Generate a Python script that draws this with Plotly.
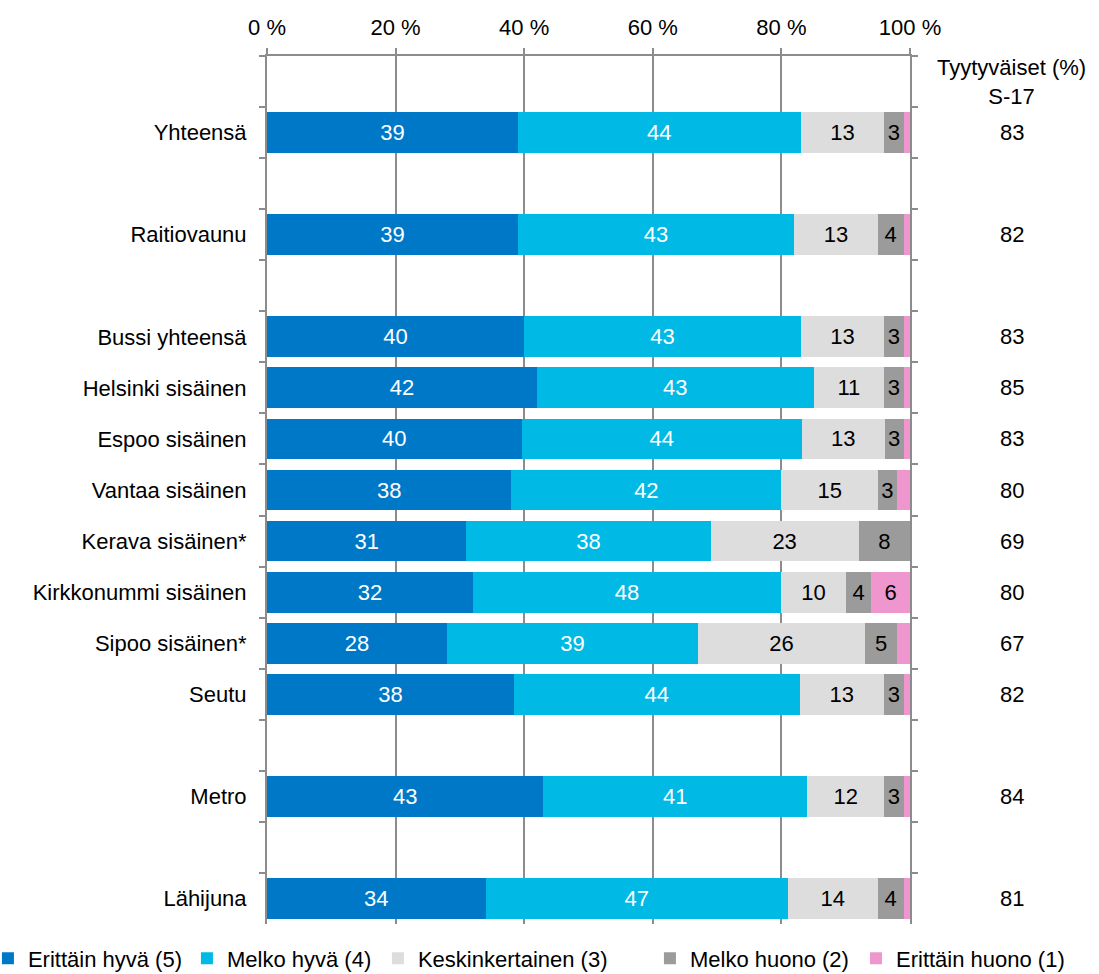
import plotly.graph_objects as go

# Rows of the survey, top to bottom
categories = ["Yhteensä", "Raitiovaunu", "Bussi yhteensä", "Helsinki sisäinen",
              "Espoo sisäinen", "Vantaa sisäinen", "Kerava sisäinen*",
              "Kirkkonummi sisäinen", "Sipoo sisäinen*", "Seutu", "Metro", "Lähijuna"]

# Share of answers per rating (%)
erittain_hyva = [39, 39, 40, 42, 40, 38, 31, 32, 28, 38, 43, 34]
melko_hyva = [44, 43, 43, 43, 44, 42, 38, 48, 39, 44, 41, 47]
keskinkertainen = [13, 13, 13, 11, 13, 15, 23, 10, 26, 13, 12, 14]
melko_huono = [3, 4, 3, 3, 3, 3, 8, 4, 5, 3, 3, 4]
erittain_huono = [1, 1, 1, 1, 1, 2, 0, 6, 2, 1, 1, 1]

# Satisfied respondents (%), S-17
tyytyvaiset = [83, 82, 83, 85, 83, 80, 69, 80, 67, 82, 84, 81]

series_names = ["Erittäin hyvä (5)", "Melko hyvä (4)", "Keskinkertainen (3)",
                "Melko huono (2)", "Erittäin huono (1)"]

x_ticks = [0, 20, 40, 60, 80, 100]
x_ticktext = ["0 %", "20 %", "40 %", "60 %", "80 %", "100 %"]

# Row order on the axis, with spacer rows between groups
row_order = [" ", "Yhteensä", "  ", "Raitiovaunu", "   ", "Bussi yhteensä",
             "Helsinki sisäinen", "Espoo sisäinen", "Vantaa sisäinen",
             "Kerava sisäinen*", "Kirkkonummi sisäinen", "Sipoo sisäinen*",
             "Seutu", "    ", "Metro", "     ", "Lähijuna"]

colors = ["#0078C8", "#00B9E4", "#DDDDDD", "#9B9B9B", "#F096CE"]
text_colors = ["white", "white", "black", "black", "black"]
# legend entry widths (px) and which legend box each entry sits in
legend_widths = [154, 146, 227, 161, 175]
legend_ids = ["legend", "legend", "legend", "legend", "legend2"]

FONT = "Liberation Sans, Arial, sans-serif"
GRID = "#8C8C8C"

fig = go.Figure()
for name, vals, col, tcol, lw, lid in zip(
        series_names,
        [erittain_hyva, melko_hyva, keskinkertainen, melko_huono, erittain_huono],
        colors, text_colors, legend_widths, legend_ids):
    fig.add_trace(go.Bar(
        y=categories, x=vals, name=name, orientation="h",
        marker=dict(color=col, line=dict(width=0)),
        text=[str(v) if v >= 3 else "" for v in vals],
        textposition="inside", insidetextanchor="middle", textangle=0,
        textfont=dict(color=tcol, size=22, family=FONT),
        legend=lid, legendwidth=lw,
        hovertemplate="%{y}: %{x}<extra>" + name + "</extra>",
    ))

# Satisfaction column on the right
ann = [dict(xref="paper", yref="y", x=1.1586, y=" ",
            text="Tyytyväiset (%)<br>S-17", showarrow=False,
            font=dict(size=22, family=FONT, color="black"),
            xanchor="center", yanchor="middle", align="center")]
for cat, v in zip(categories, tyytyvaiset):
    ann.append(dict(xref="paper", yref="y", x=1.1586, y=cat, text=str(v),
                    showarrow=False, xanchor="center", yanchor="middle",
                    font=dict(size=22, family=FONT, color="black")))

legend_style = dict(orientation="h", xref="paper", yref="paper",
                    xanchor="left", yanchor="top",
                    font=dict(size=22, family=FONT, color="black"),
                    traceorder="normal", bgcolor="rgba(0,0,0,0)")

fig.update_layout(
    barmode="stack", barnorm="percent", bargap=0.2,
    width=1099, height=974,
    margin=dict(l=267, r=189, t=56, b=50, autoexpand=False),
    paper_bgcolor="white", plot_bgcolor="white",
    font=dict(family=FONT, size=22, color="black"),
    uniformtext=dict(mode="show", minsize=22),
    showlegend=True,
    legend=dict(x=-0.434, y=-0.0155, **legend_style),
    legend2=dict(x=0.916, y=-0.0155, **legend_style),
    annotations=ann,
    xaxis=dict(side="top", range=[0, 100], tickvals=x_ticks, ticktext=x_ticktext,
               showgrid=True, gridcolor=GRID, gridwidth=2,
               showline=True, linecolor=GRID, linewidth=2,
               ticks="outside", ticklen=6, tickcolor=GRID, tickwidth=2,
               ticklabelstandoff=4, zeroline=False, fixedrange=True),
    yaxis=dict(type="category", categoryorder="array", categoryarray=row_order,
               range=[len(row_order) - 0.5, -0.5], tickson="boundaries",
               showline=True, linecolor=GRID, linewidth=2, mirror="ticks",
               ticks="outside", ticklen=6, tickcolor=GRID, tickwidth=2,
               showgrid=False, ticklabelstandoff=14, fixedrange=True),
)

fig.write_html("out.html")
